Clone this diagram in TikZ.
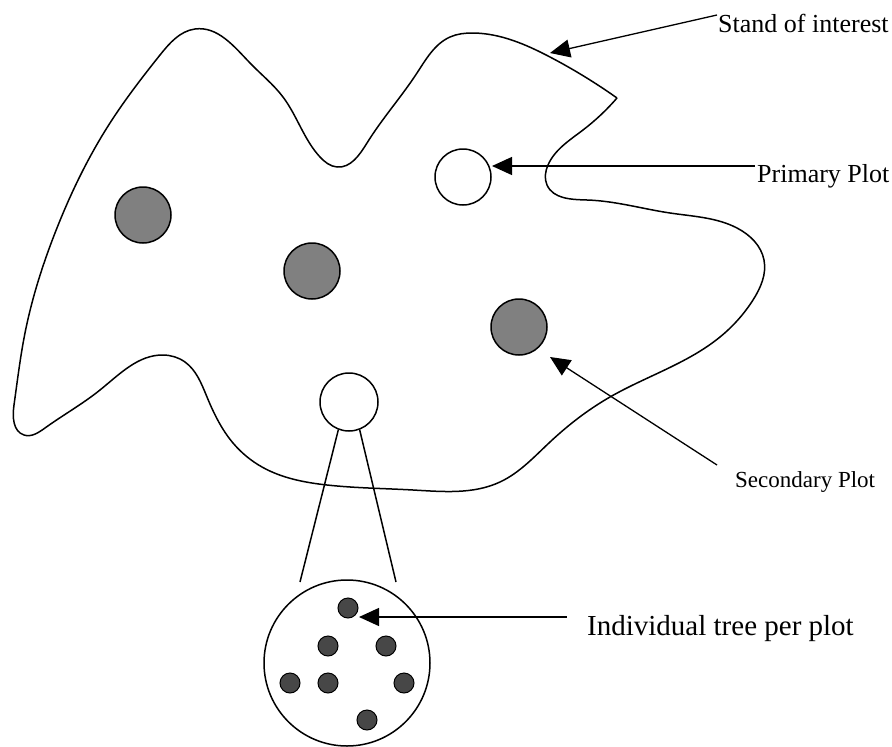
\documentclass[tikz,border=0pt]{standalone}
\usepackage{fontspec}
\setmainfont{Liberation Serif}
\usetikzlibrary{arrows.meta,hobby}
\definecolor{plotgray}{gray}{0.5}
\definecolor{treegray}{gray}{0.28}
\begin{document}
\begin{tikzpicture}[x=1pt,y=-1pt,
  outline/.style={line width=1.5pt, line join=round},
  plotc/.style={circle, draw, line width=1.5pt, minimum size=56pt, inner sep=0pt},
  primaryplot/.style={plotc, fill=white},
  secondaryplot/.style={plotc, fill=plotgray},
  tree/.style={circle, draw, line width=1pt, fill=treegray, minimum size=20pt, inner sep=0pt},
  pointer/.style={line width=1.3pt, {Triangle[length=20pt,width=18pt]}-},
  lbl/.style={inner sep=0pt, anchor=base west}]
\useasboundingbox (0,0) rectangle (892,747);
\fill[white] (0,0) rectangle (892,747);

% stand outline
\draw[outline, use Hobby shortcut] (617,98) .. (583,130) .. (548,165) .. (547,185)
 .. (587,200) .. (670,213) .. (737,228) .. (764,260) .. (753,300) .. (720,337)
 .. (610,397) .. (550,442) .. (500,482) .. (413,490)
 .. (327,485) .. (262,467) .. (233,443) .. (207,397) .. (185,362) .. (163,355)
 .. (100,390) .. (45,428) .. (24,435) .. (14,405) .. (25,333)
 .. (55,233) .. (110,123) .. (160,55) .. (195,29)
 .. (250,63) .. (283,97) .. (320,157) .. (337,167) .. (367,143)
 .. (417,73) .. (450,37) .. (473,33) .. (550,57) .. (617,98);

% plots
\node[secondaryplot] (s1) at (143,215) {};
\node[secondaryplot] (s2) at (312,271) {};
\node[secondaryplot] (s3) at (519,327) {};
\node[primaryplot] (p1) at (463,177) {};
\node[primaryplot, minimum size=58pt] (p2) at (349,402) {};

% magnified plot
\node[circle, draw, line width=1.5pt, minimum size=166pt, inner sep=0pt] (mag) at (347,663) {};
\coordinate (magL) at (300,582);
\coordinate (magR) at (396,582);
\draw[line width=1.5pt] (p2.-111) -- (magL);
\draw[line width=1.5pt] (p2.-69) -- (magR);

\node[tree] (t1) at (348,608) {};
\node[tree] (t2) at (328,646) {};
\node[tree] (t3) at (386,646) {};
\node[tree] (t4) at (290,683) {};
\node[tree] (t5) at (328,683) {};
\node[tree] (t6) at (404,683) {};
\node[tree] (t7) at (367,720) {};

% labels
\node[lbl, font=\fontsize{26}{30}\selectfont] (lstand) at (718,32) {Stand of interest};
\node[lbl, font=\fontsize{26}{30}\selectfont] (lprim) at (757,182) {Primary Plot};
\node[lbl, font=\fontsize{23}{27}\selectfont] (lsec) at (735,487) {Secondary Plot};
\node[lbl, font=\fontsize{29}{34}\selectfont] (lind) at (587,635) {Individual tree per plot};

% pointers
\coordinate (standfrom) at (717,15);
\coordinate (standtip) at (550,53);
\coordinate (primfrom) at (755,166);
\coordinate (primtip) at (492,166);
\coordinate (secfrom) at (717,465);
\coordinate (sectip) at (550,357);
\coordinate (indfrom) at (567,617);
\coordinate (indtip) at (359,617);
\draw[pointer] (standtip) -- (standfrom);
\draw[pointer] (primtip) -- (primfrom);
\draw[pointer] (sectip) -- (secfrom);
\draw[pointer] (indtip) -- (indfrom);
\end{tikzpicture}
\end{document}
